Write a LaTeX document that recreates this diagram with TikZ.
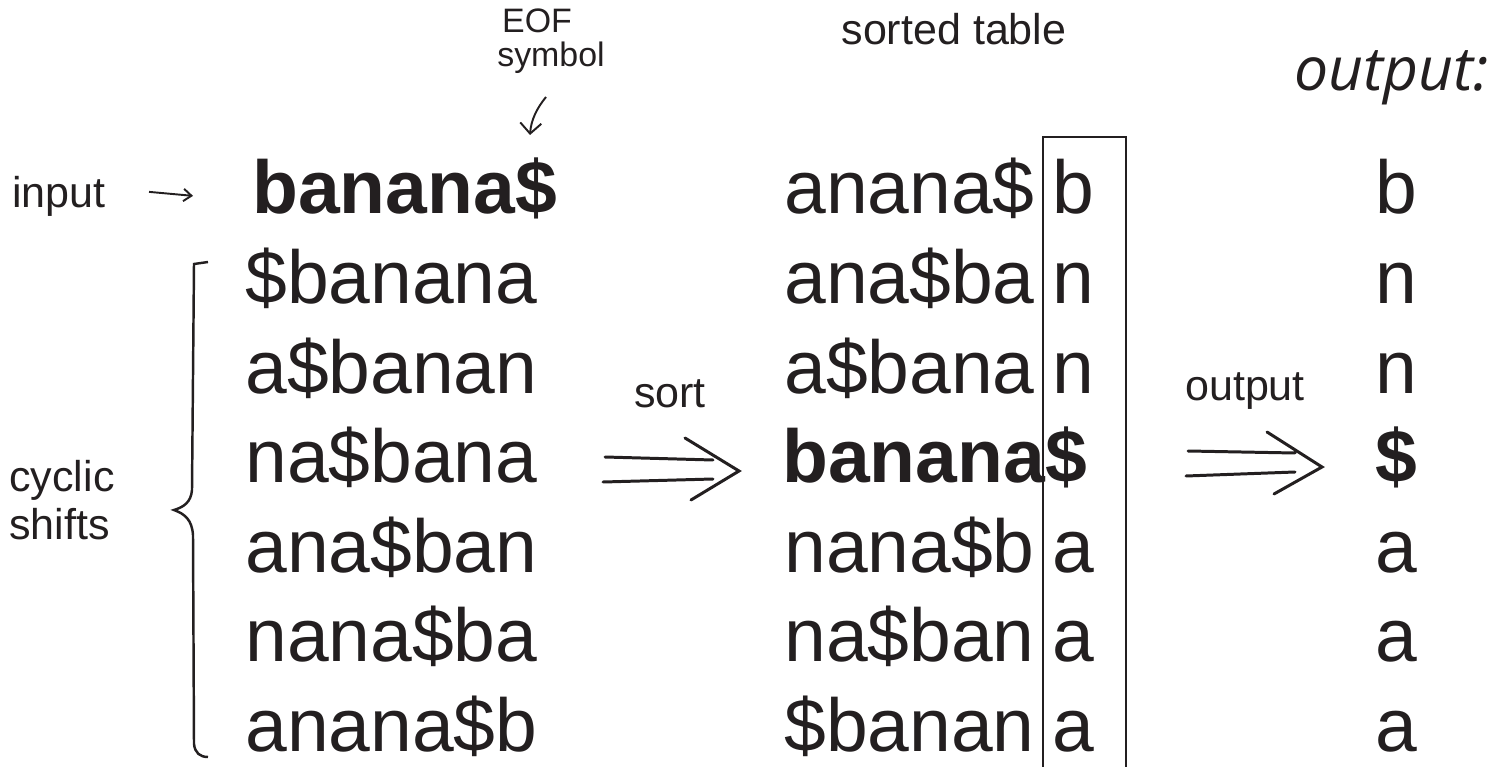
\documentclass[tikz,border=0pt]{standalone}
\usepackage{fontspec}
\setmainfont{Liberation Sans}
\newfontfamily\headfont{Open Sans}
\usetikzlibrary{arrows.meta}
\definecolor{ink}{RGB}{35,31,32}

\begin{document}
\begin{tikzpicture}[x=0.02cm,y=-0.02cm,color=ink,
    every node/.style={inner sep=0pt},
    str/.style={anchor=base west,font=\fontsize{42.7}{50}\selectfont},
    chr/.style={anchor=base,font=\fontsize{42.7}{50}\selectfont},
    lab/.style={font=\fontsize{24.5}{27.3}\selectfont},
    note/.style={anchor=base,font=\fontsize{19.3}{22}\selectfont},
    sketch/.style={line width=1.7pt,line cap=round}]
    \useasboundingbox (0,0) rectangle (1495,767);

    % headings
    \node[note] (eof) at (537,33) {EOF};
    \node[note] (sym) at (551,67) {symbol};
    \node[lab,anchor=base] (sorted) at (954,45) {sorted table};
    \node[anchor=base west,font=\headfont\itshape\fontsize{34.5}{40}\selectfont] (outhead) at (1294,91) {output:};

    % cyclic shifts
    \node[str] (in) at (252,214) {\textbf{banana\$}};
    \node[str] (c1) at (245,303.5) {\$banana};
    \node[str] (c2) at (245,393) {a\$banan};
    \node[str] (c3) at (245,482.5) {na\$bana};
    \node[str] (c4) at (245,572) {ana\$ban};
    \node[str] (c5) at (245,661.5) {nana\$ba};
    \node[str] (c6) at (245,751) {anana\$b};

    % sorted table
    \node[str] (s1) at (784,214) {anana\$};
    \node[str] (s2) at (784,303.5) {ana\$ba};
    \node[str] (s3) at (784,393) {a\$bana};
    \node[str] (s4) at (782,482.5) {\textbf{banana\$}};
    \node[str] (s5) at (784,572) {nana\$b};
    \node[str] (s6) at (784,661.5) {na\$ban};
    \node[str] (s7) at (784,751) {\$banan};
    \node[str] (l1) at (1052,214) {b};
    \node[str] (l2) at (1052,303.5) {n};
    \node[str] (l3) at (1052,393) {n};
    \node[str] (l5) at (1052,572) {a};
    \node[str] (l6) at (1052,661.5) {a};
    \node[str] (l7) at (1052,751) {a};

    % last column
    \node[chr] (o1) at (1396,214) {b};
    \node[chr] (o2) at (1396,303.5) {n};
    \node[chr] (o3) at (1396,393) {n};
    \node[chr] (o4) at (1396,482.5) {\textbf{\$}};
    \node[chr] (o5) at (1396,572) {a};
    \node[chr] (o6) at (1396,661.5) {a};
    \node[chr] (o7) at (1396,751) {a};

    % labels
    \node[lab,anchor=base west] (input) at (12,207) {input};
    \node[lab,align=left] (shifts) at (62,500) {cyclic\\shifts};
    \node[lab,anchor=base] (sort) at (670,407) {sort};
    \node[lab,anchor=base] (output) at (1245,400) {output};

    % arrows
    \coordinate (eoftail) at (546,97);
    \coordinate (eoftip) at (530,135);
    \draw[line width=1.1pt,-{Straight Barb[length=6pt,width=12pt]}] (eoftail) .. controls (537,108) and (531,120) .. (eoftip);
    \draw[line width=1.1pt,-{Straight Barb[length=4.5pt,width=7pt]}] ([xshift=0.86cm,yshift=0.08cm]input.east) -- ([xshift=-1.18cm]in.west |- input.east);

    \draw[sketch] (605,457) -- (713,460) (603,482) -- (713,479)
        (685,438) -- (739,471) -- (691,500);
    \draw[sketch] (1188,451) -- (1295,453) (1186,476) -- (1295,472)
        (1267,432) -- (1322,467) -- (1274,494);

    % brace
    \draw[line width=1.4pt] (208,262) -- (194,264) -- (192,490)
        .. controls (191,502) and (184,507) .. (174,510)
        .. controls (185,514) and (192,520) .. (193,535) -- (194,744)
        .. controls (195,753) and (200,757) .. (208,757);

    % box around the last column
    \draw[line width=1.4pt] (1043,800) -- (1043,137) -- (1126,137) -- (1126,800);
\end{tikzpicture}
\end{document}
